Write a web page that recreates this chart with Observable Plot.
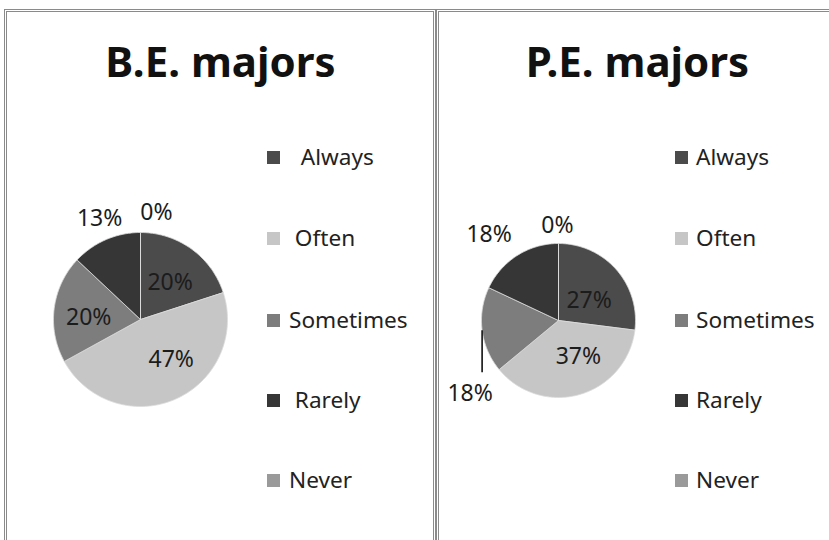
<!DOCTYPE html>
<html><head><meta charset="utf-8">
<script src="https://cdn.jsdelivr.net/npm/d3@7"></script>
<script src="https://cdn.jsdelivr.net/npm/@observablehq/plot@0.6"></script>
<style>
html,body{margin:0;padding:0;background:#fff;}
#wrap{position:relative;width:829px;height:540px;overflow:hidden;background:#fff;font-family:"Noto Sans",sans-serif;color:#222;}
.panel{position:absolute;top:9px;height:600px;border:3px double #8a8a8a;box-sizing:border-box;}
.title{position:absolute;top:40px;width:400px;font-weight:bold;font-size:42px;line-height:42px;text-align:center;color:#111;white-space:nowrap;}
.pie{position:absolute;}
.legend-row{position:absolute;display:flex;align-items:center;height:30px;font-size:22.6px;line-height:30px;white-space:pre;color:#222;}
.sw{width:13px;height:13px;flex:none;}
</style></head><body><div id="wrap"></div>
<script>
// ---- data ----
const categories = ["Always", "Often", "Sometimes", "Rarely", "Never"];
const beLegendText = ["  Always", " Often", "Sometimes", " Rarely", "Never"];
const peLegendText = ["Always", "Often", "Sometimes", "Rarely", "Never"];
const beValues = [20, 47, 20, 13, 0];
const peValues = [27, 37, 18, 18, 0];
const titles = ["B.E. majors", "P.E. majors"];
const grays = ["#4b4b4b", "#c6c6c6", "#7d7d7d", "#363636", "#9a9a9a"];

// ---- layout (pixels) ----
const legendRowsY = [157, 238, 320, 400, 480];
const layout = [
  {values: beValues, title: titles[0], legendText: beLegendText,
   panelLeft: 4, panelWidth: 432, titleCenter: 220.5,
   cx: 140, cy: 318.5, r: 87, swatchX: 267, textGap: 9,
   nudges: {Always: [-1, 5], Often: [10, -8], Sometimes: [0, 5], Rarely: [3, 1], Never: [16, 4]},
   leaders: {}},
  {values: peValues, title: titles[1], legendText: peLegendText,
   panelLeft: 436, panelWidth: 410, titleCenter: 637.5,
   cx: 558, cy: 320, r: 77, swatchX: 675, textGap: 8,
   nudges: {Always: [-4, 11], Often: [7, -8], Rarely: [-17, -3], Never: [-1, 3]},
   leaders: {Sometimes: {drop: 42, label: [-12, 63]}}}
];
const insideK = 0.6, outsideK = 1.27, outsideBelow = 19;
const SIZE = 280;

const wrap = document.getElementById("wrap");

for (const L of layout) {
  const panel = document.createElement("div");
  panel.className = "panel";
  panel.style.left = L.panelLeft + "px";
  panel.style.width = L.panelWidth + "px";
  wrap.appendChild(panel);

  const t = document.createElement("div");
  t.className = "title";
  t.textContent = L.title;
  t.style.left = (L.titleCenter - 200) + "px";
  wrap.appendChild(t);

  // slices from d3.pie angles
  const arcs = d3.pie().sort(null).value(d => d)(L.values);
  const pts = [];
  const labels = [];
  const links = [];
  const px = 1 / L.r; // data units per pixel
  arcs.forEach((a, i) => {
    const cat = categories[i];
    const n = Math.max(1, Math.ceil((a.endAngle - a.startAngle) / (Math.PI / 180)));
    pts.push({cat, x: 0, y: 0});
    for (let k = 0; k <= n; k++) {
      const ang = a.startAngle + (a.endAngle - a.startAngle) * k / n;
      pts.push({cat, x: Math.sin(ang), y: Math.cos(ang)});
    }
    pts.push({cat, x: 0, y: 0});
    const mid = (a.startAngle + a.endAngle) / 2;
    const text = a.value + "%";
    const lead = L.leaders[cat];
    if (lead) {
      const ex = Math.sin(mid), ey = Math.cos(mid);
      links.push({x1: ex, y1: ey, x2: ex, y2: ey - lead.drop * px});
      labels.push({text, x: ex + lead.label[0] * px, y: ey - lead.label[1] * px});
    } else {
      const k = a.value < outsideBelow ? outsideK : insideK;
      const nd = L.nudges[cat] || [0, 0];
      labels.push({text, x: k * Math.sin(mid) + nd[0] * px, y: k * Math.cos(mid) - nd[1] * px});
    }
  });

  const D = SIZE / 2 / L.r;
  const chart = Plot.plot({
    width: SIZE, height: SIZE, margin: 0,
    x: {domain: [-D, D], axis: null},
    y: {domain: [-D, D], axis: null},
    color: {domain: categories, range: grays},
    style: {background: "transparent", overflow: "visible", fontFamily: "'Noto Sans', sans-serif"},
    marks: [
      Plot.line(pts, {x: "x", y: "y", z: "cat", fill: "cat", stroke: "#dcdcdc", strokeWidth: 0.8, curve: "linear"}),
      Plot.link(links, {x1: "x1", y1: "y1", x2: "x2", y2: "y2", stroke: "#111", strokeWidth: 1.6}),
      Plot.text(labels, {x: "x", y: "y", text: "text", fontSize: 23, fill: "#1c1c1c"})
    ]
  });
  chart.classList.add("pie");
  chart.style.left = (L.cx - SIZE / 2) + "px";
  chart.style.top = (L.cy - SIZE / 2) + "px";
  wrap.appendChild(chart);

  // legend
  categories.forEach((cat, i) => {
    const row = document.createElement("div");
    row.className = "legend-row";
    row.style.left = L.swatchX + "px";
    row.style.top = (legendRowsY[i] - 15) + "px";
    const sw = document.createElement("span");
    sw.className = "sw";
    sw.style.background = grays[i];
    sw.style.marginRight = L.textGap + "px";
    const tx = document.createElement("span");
    tx.textContent = L.legendText[i];
    row.appendChild(sw);
    row.appendChild(tx);
    wrap.appendChild(row);
  });
}
</script></body></html>
